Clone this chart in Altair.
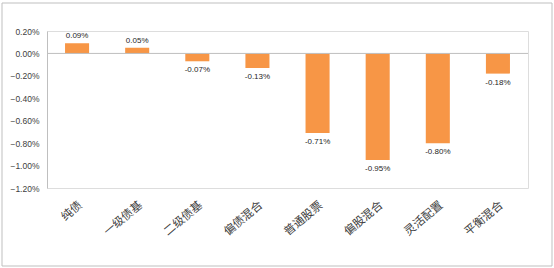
import altair as alt
import pandas as pd

categories = ["纯债", "一级债基", "二级债基", "偏债混合", "普通股票", "偏股混合", "灵活配置", "平衡混合"]
values = [0.09, 0.05, -0.07, -0.13, -0.71, -0.95, -0.80, -0.18]
y_ticks = [0.2, 0.0, -0.2, -0.4, -0.6, -0.8, -1.0, -1.2]

df = pd.DataFrame({"cat": categories, "val": [v / 100 for v in values]})
df["label"] = [f"{v:.2f}%" for v in values]
df["pos"] = df["val"] >= 0

W, H = 481, 157
x_axis = alt.Axis(title=None, labelAngle=-40, labelAlign="right", labelBaseline="top",
                  labelFont="Noto Sans CJK SC", labelFontSize=11.5, labelColor="#404040",
                  domain=False, ticks=False, labelPadding=11, labelOffset=0, zindex=1,
                  labelOverlap=False)
y_axis = alt.Axis(title=None, format=".2%", values=[round(v / 100, 4) for v in y_ticks],
                  grid=False, ticks=False, domainColor="#bfbfbf", labelFontSize=8.5,
                  labelColor="#404040", labelFont="Liberation Sans", labelPadding=8,
                  labelOverlap=False, labelFlush=False, labelBound=False, zindex=1)
x_scale = alt.Scale(paddingInner=0.6, paddingOuter=0.3)
y_scale = alt.Scale(domain=[-0.012, 0.002], nice=False)
xs = alt.X("cat:N", sort=categories, scale=x_scale, axis=x_axis)
ys = alt.Y("val:Q", scale=y_scale, axis=y_axis)

base = alt.Chart(df)

border = alt.Chart(pd.DataFrame({"a": [0]})).mark_rect(
    filled=False, stroke="#bfbfbf", strokeWidth=1
).encode(x=alt.value(-45), x2=alt.value(505), y=alt.value(-28), y2=alt.value(235))

bars = base.mark_bar(color="#F79646").encode(x=xs, y=ys, y2=alt.datum(0))

zero = alt.Chart(pd.DataFrame({"val": [0.0]})).mark_rule(color="#bfbfbf", strokeWidth=1).encode(
    y=ys, x=alt.value(0), x2=alt.value(W))

lab_pos = base.transform_filter("datum.pos").mark_text(
    dy=-7, fontSize=8, color="#262626", font="Liberation Sans"
).encode(x=xs, y=ys, text="label:N")
lab_neg = base.transform_filter("!datum.pos").mark_text(
    dy=9, fontSize=8, color="#262626", font="Liberation Sans"
).encode(x=xs, y=ys, text="label:N")

chart = alt.layer(bars, zero, lab_pos, lab_neg, border).properties(
    width=W, height=H,
    autosize=alt.AutoSizeParams(type="none"),
    padding={"left": 47, "top": 31, "right": 26, "bottom": 80},
).configure_view(strokeWidth=0).configure(background="white")

chart.save("out.html", embed_options={"renderer": "svg", "actions": False})
